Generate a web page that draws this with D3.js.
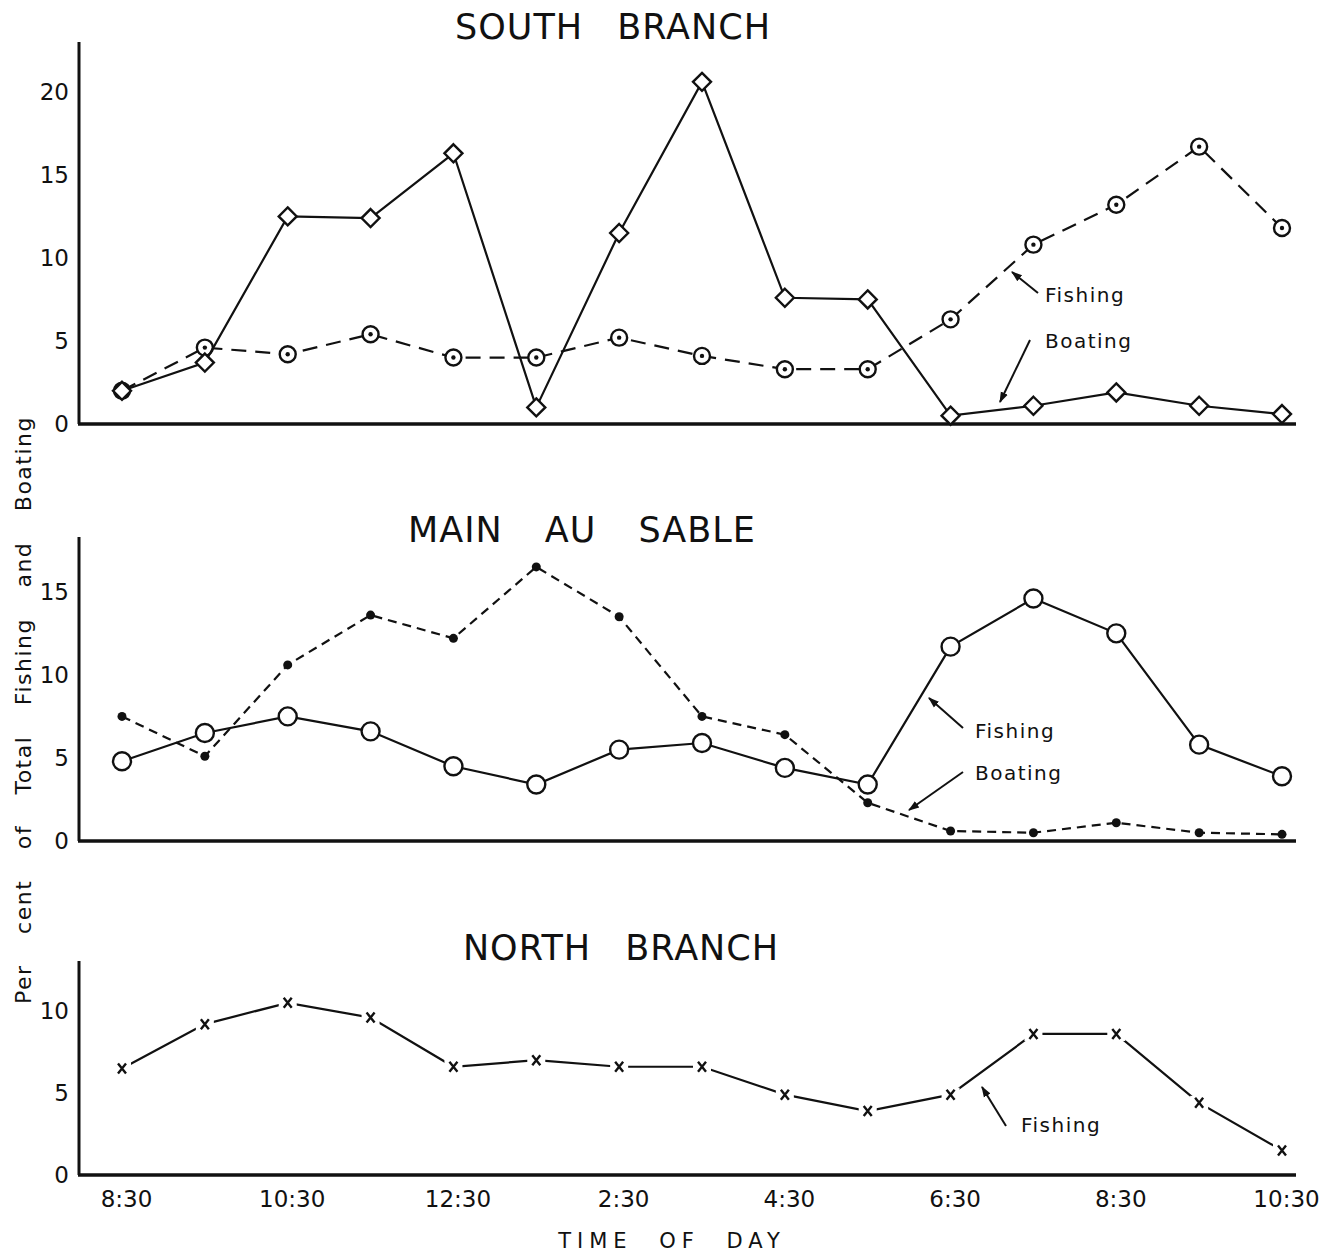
<!DOCTYPE html>
<html>
<head>
<meta charset="utf-8">
<script src="https://cdn.jsdelivr.net/npm/d3@7"></script>
<style>
  body { margin: 0; background: #fff; }
  text { font-family: "DejaVu Sans", sans-serif; fill: #111; }
</style>
</head>
<body>
<div id="chart"></div>
<script>
// hours from 8:30 am to 10:30 pm
var times = ["8:30", "9:30", "10:30", "11:30", "12:30", "1:30", "2:30", "3:30",
    "4:30", "5:30", "6:30", "7:30", "8:30", "9:30", "10:30"];
var tickIdx = [0, 2, 4, 6, 8, 10, 12, 14];

// South Branch
var southBoating = [2.0, 3.7, 12.5, 12.4, 16.3, 1.0, 11.5, 20.6, 7.6, 7.5, 0.5, 1.1, 1.9, 1.1, 0.6];
var southFishing = [2.0, 4.6, 4.2, 5.4, 4.0, 4.0, 5.2, 4.1, 3.3, 3.3, 6.3, 10.8, 13.2, 16.7, 11.8];
// Main Au Sable
var mainFishing = [4.8, 6.5, 7.5, 6.6, 4.5, 3.4, 5.5, 5.9, 4.4, 3.4, 11.7, 14.6, 12.5, 5.8, 3.9];
var mainBoating = [7.5, 5.1, 10.6, 13.6, 12.2, 16.5, 13.5, 7.5, 6.4, 2.3, 0.6, 0.5, 1.1, 0.5, 0.4];
// North Branch
var northFishing = [6.5, 9.2, 10.5, 9.6, 6.6, 7.0, 6.6, 6.6, 4.9, 3.9, 4.9, 8.6, 8.6, 4.4, 1.5];

var southTicks = [0, 5, 10, 15, 20];
var mainTicks = [0, 5, 10, 15];
var northTicks = [0, 5, 10];

var W = 1339, H = 1256;
var svg = d3.select("#chart").append("svg")
    .attr("width", W).attr("height", H);

var defs = svg.append("defs");
defs.append("marker")
    .attr("id", "arrow")
    .attr("viewBox", "0 0 10 10")
    .attr("refX", 9).attr("refY", 5)
    .attr("markerWidth", 11).attr("markerHeight", 11)
    .attr("markerUnits", "userSpaceOnUse")
    .attr("orient", "auto")
    .append("path")
    .attr("d", "M0,1.5 L10,5 L0,8.5 Z")
    .attr("fill", "#111");

var x = d3.scaleLinear().domain([0, 14]).range([122, 1282]);
var axisX0 = 79, axisX1 = 1296;

function panel(opts) {
    var y = d3.scaleLinear().domain([0, opts.ymax]).range([opts.bottom, opts.top]);
    var g = svg.append("g");

    // axes lines
    g.append("line")
        .attr("x1", axisX0).attr("x2", axisX0)
        .attr("y1", y(opts.ymax)).attr("y2", y(0))
        .attr("stroke", "#111").attr("stroke-width", 3);
    g.append("line")
        .attr("x1", axisX0 - 1).attr("x2", axisX1)
        .attr("y1", y(0)).attr("y2", y(0))
        .attr("stroke", "#111").attr("stroke-width", 3.5);

    var ax = g.append("g")
        .attr("transform", "translate(" + (axisX0 - 8) + ",0)")
        .call(d3.axisLeft(y).tickValues(opts.ticks).tickSize(0).tickPadding(2));
    ax.select(".domain").remove();
    ax.selectAll("text")
        .style("font-family", "DejaVu Sans, sans-serif")
        .style("font-size", "23px")
        .attr("fill", "#111");

    g.append("text")
        .attr("x", opts.titleX).attr("y", opts.titleY)
        .attr("text-anchor", "middle")
        .attr("font-size", "35px")
        .attr("letter-spacing", "1px")
        .attr("word-spacing", opts.wordGap + "px")
        .text(opts.title);

    return { g: g, y: y };
}

function drawSeries(p, data, dash, marker) {
    var line = d3.line()
        .x(function(d, i) { return x(i); })
        .y(function(d) { return p.y(d); });
    p.g.append("path")
        .datum(data)
        .attr("fill", "none")
        .attr("stroke", "#111")
        .attr("stroke-width", 2.2)
        .attr("stroke-dasharray", dash)
        .attr("d", line);

    var m = p.g.selectAll(null).data(data).enter().append("g")
        .attr("transform", function(d, i) { return "translate(" + x(i) + "," + p.y(d) + ")"; });

    if (marker == "diamond") {
        m.append("path")
            .attr("d", "M0,-9 L9,0 L0,9 L-9,0 Z")
            .attr("fill", "#fff").attr("stroke", "#111").attr("stroke-width", 2.4);
    } else if (marker == "dotcircle") {
        m.append("circle").attr("r", 8)
            .attr("fill", "#fff").attr("stroke", "#111").attr("stroke-width", 2.4);
        m.append("circle").attr("r", 2.2).attr("fill", "#111");
    } else if (marker == "circle") {
        m.append("circle").attr("r", 9)
            .attr("fill", "#fff").attr("stroke", "#111").attr("stroke-width", 2.4);
    } else if (marker == "dot") {
        m.append("circle").attr("r", 4.5).attr("fill", "#111");
    } else if (marker == "cross") {
        m.append("rect").attr("x", -9).attr("y", -7).attr("width", 18).attr("height", 14).attr("fill", "#fff");
        m.append("path")
            .attr("d", "M-4,-5 L4,5 M4,-5 L-4,5")
            .attr("stroke", "#111").attr("stroke-width", 2.4);
    }
}

function note(text, tx, ty, ax1, ay1, ax2, ay2) {
    svg.append("line")
        .attr("x1", ax1).attr("y1", ay1).attr("x2", ax2).attr("y2", ay2)
        .attr("stroke", "#111").attr("stroke-width", 2)
        .attr("marker-end", "url(#arrow)");
    svg.append("text")
        .attr("x", tx).attr("y", ty)
        .attr("font-size", "20px")
        .attr("letter-spacing", "1.5px")
        .text(text);
}

// South Branch
var p1 = panel({ ymax: 23, top: 42, bottom: 424, ticks: southTicks,
    title: "SOUTH BRANCH", titleX: 613, titleY: 39, wordGap: 22 });
drawSeries(p1, southFishing, "15,9", "dotcircle");
drawSeries(p1, southBoating, null, "diamond");
note("Fishing", 1045, 302, 1038, 293, 1012, 272);
note("Boating", 1045, 348, 1030, 340, 1000, 402);

// Main Au Sable
var p2 = panel({ ymax: 18.3, top: 537, bottom: 841, ticks: mainTicks,
    title: "MAIN AU SABLE", titleX: 582, titleY: 542, wordGap: 30 });
drawSeries(p2, mainBoating, "9,6", "dot");
drawSeries(p2, mainFishing, null, "circle");
note("Fishing", 975, 738, 963, 728, 929, 698);
note("Boating", 975, 780, 963, 772, 909, 810);

// North Branch
var p3 = panel({ ymax: 13.05, top: 961, bottom: 1175, ticks: northTicks,
    title: "NORTH BRANCH", titleX: 621, titleY: 960, wordGap: 22 });
drawSeries(p3, northFishing, null, "cross");
note("Fishing", 1021, 1132, 1006, 1126, 982, 1087);

// x axis labels on the bottom panel
var xa = svg.append("g")
    .attr("transform", "translate(4,1188)")
    .call(d3.axisBottom(x).tickValues(tickIdx).tickSize(0)
        .tickFormat(function(i) { return times[i]; }));
xa.select(".domain").remove();
xa.selectAll("text")
    .style("font-family", "DejaVu Sans, sans-serif")
    .style("font-size", "23px")
    .attr("fill", "#111");

svg.append("text")
    .attr("x", 672).attr("y", 1248)
    .attr("text-anchor", "middle")
    .attr("font-size", "21px")
    .attr("letter-spacing", "6px")
    .attr("word-spacing", "14px")
    .text("TIME OF DAY");

svg.append("text")
    .attr("transform", "translate(31,710) rotate(-90)")
    .attr("text-anchor", "middle")
    .attr("font-size", "22px")
    .attr("letter-spacing", "1.5px")
    .attr("word-spacing", "22px")
    .text("Per cent of Total Fishing and Boating");
</script>
</body>
</html>
